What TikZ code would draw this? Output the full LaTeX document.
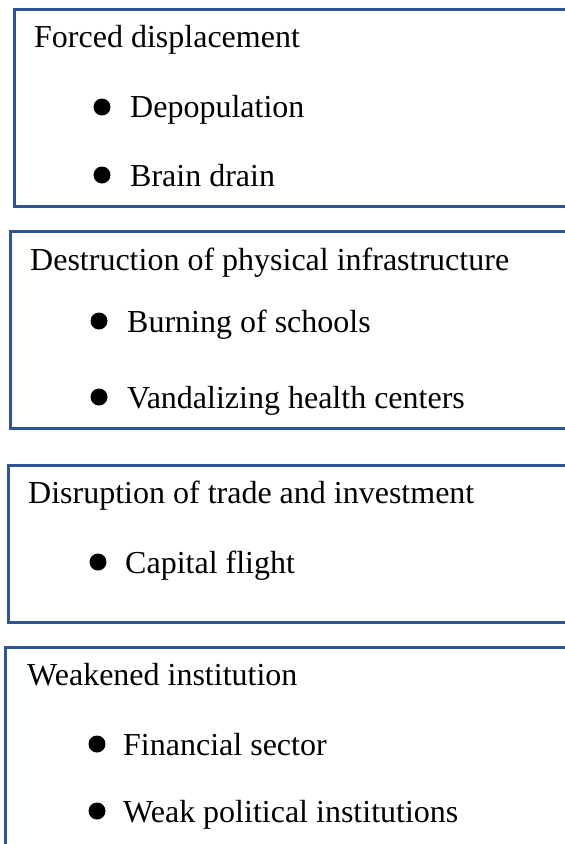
\documentclass[tikz,border=0pt]{standalone}
\usepackage{fontspec}
\setmainfont{Liberation Serif}
\definecolor{frameblue}{RGB}{47,85,151}
\begin{document}
\begin{tikzpicture}[x=1bp,y=-1bp,
  box/.style={draw=frameblue, line width=3bp, rectangle, inner sep=0pt, anchor=north west},
  head/.style={anchor=base west, inner sep=0pt, font=\fontsize{32bp}{38bp}\selectfont},
  item/.style={anchor=base west, inner sep=0pt, font=\fontsize{32bp}{38bp}\selectfont},
  dot/.style={circle, fill=black, inner sep=0pt, minimum size=17bp}]
\useasboundingbox (0,0) rectangle (565,844);
\clip (0,0) rectangle (565,844);
\fill[white] (0,0) rectangle (565,844);

% Forced displacement
\node[box, minimum width=600bp, minimum height=197bp] (b1) at (13,8) {};
\node[head] (h1) at (34,47) {Forced displacement};
\node[dot] (d11) at (102,107) {};
\node[item] (i11) at (130,117) {Depopulation};
\node[dot] (d12) at (102,175) {};
\node[item] (i12) at (130,186) {Brain drain};

% Destruction of physical infrastructure
\node[box, minimum width=600bp, minimum height=197bp] (b2) at (9,230) {};
\node[head] (h2) at (30,270) {Destruction of physical infrastructure};
\node[dot] (d21) at (99,321) {};
\node[item] (i21) at (127,332) {Burning of schools};
\node[dot] (d22) at (99,397) {};
\node[item] (i22) at (127,408) {Vandalizing health centers};

% Disruption of trade and investment
\node[box, minimum width=600bp, minimum height=157bp] (b3) at (7,464) {};
\node[head] (h3) at (28,503) {Disruption of trade and investment};
\node[dot] (d31) at (98,562) {};
\node[item] (i31) at (125,573) {Capital flight};

% Weakened institution
\node[box, minimum width=600bp, minimum height=230bp] (b4) at (4,646) {};
\node[head] (h4) at (27,685) {Weakened institution};
\node[dot] (d41) at (97,744) {};
\node[item] (i41) at (123,755) {Financial sector};
\node[dot] (d42) at (97,811) {};
\node[item] (i42) at (123,822) {Weak political institutions};
\end{tikzpicture}
\end{document}
